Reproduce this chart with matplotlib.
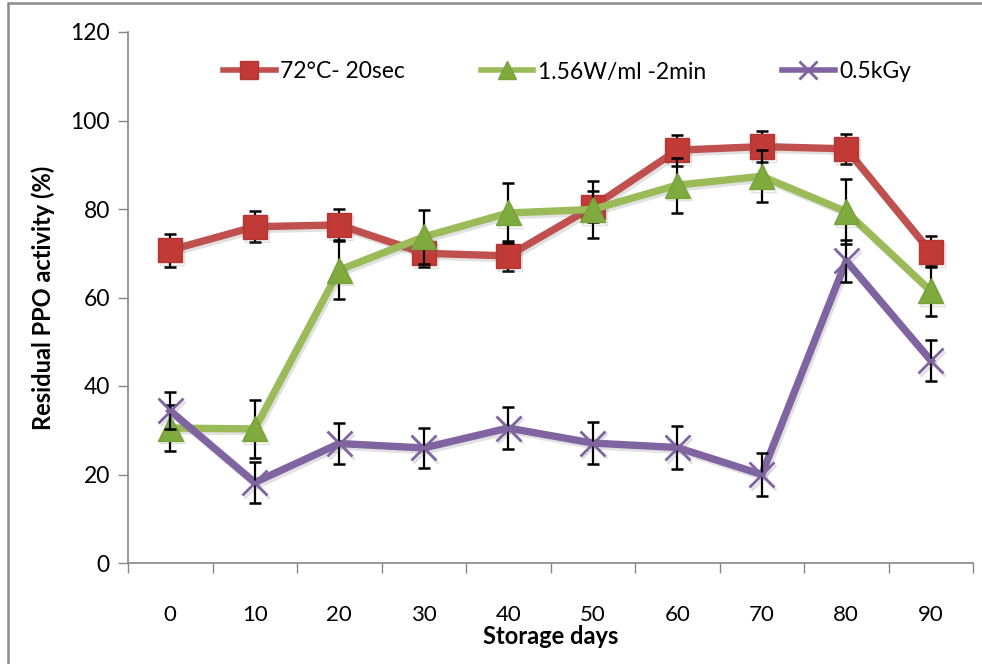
import matplotlib
matplotlib.use("Agg")
import matplotlib.pyplot as plt
import matplotlib.patheffects as pe
from matplotlib.patches import Rectangle
import numpy as np

days = [0, 10, 20, 30, 40, 50, 60, 70, 80, 90]
labels = ["72°C- 20sec", "1.56W/ml -2min", "0.5kGy"]
heat = [70.7, 76.0, 76.4, 70.0, 69.4, 80.5, 93.3, 94.1, 93.6, 70.3]
heat_err = [3.7, 3.5, 3.5, 3.2, 3.4, 3.5, 3.5, 3.5, 3.4, 3.5]
micro = [30.5, 30.3, 66.2, 73.7, 79.1, 79.9, 85.4, 87.4, 79.4, 61.5]
micro_err = [5.2, 6.5, 6.6, 6.1, 6.8, 6.5, 6.2, 5.9, 7.4, 5.6]
irr = [34.4, 18.2, 27.0, 26.0, 30.5, 27.1, 26.1, 20.0, 68.3, 45.8]
irr_err = [4.2, 4.6, 4.6, 4.6, 4.7, 4.7, 4.9, 4.8, 4.8, 4.6]
yticks = [0, 20, 40, 60, 80, 100, 120]

plt.rcParams['font.family'] = ['Lato', 'DejaVu Sans']

W, H = 982, 664
fig = plt.figure(figsize=(W / 100, H / 100), dpi=100)
ax = fig.add_axes([128 / W, 1 - 563 / H, (973 - 128) / W, (563 - 32) / H])

x = np.arange(len(days))
series = [
    (heat, heat_err, '#C0504D', 's', '#C23A36', '#B23733', 17.5, 1.0, 13.5),
    (micro, micro_err, '#9BBB59', '^', '#7FAA3D', '#77A23A', 18, 1.0, 13),
    (irr, irr_err, '#8064A2', 'x', '#8064A2', '#8064A2', 18, 2.0, 13),
]
shadow = [pe.SimpleLineShadow(offset=(1.5, -2.0), shadow_color='#777777', alpha=0.22), pe.Normal()]
handles = []
for i, (vals, err, lc, mk, mfc, mec, ms, mew, lms) in enumerate(series):
    base = 2 + 3 * i
    ax.plot(x, vals, color=lc, lw=5.3, solid_joinstyle='round', zorder=base, path_effects=shadow)
    ax.errorbar(x, vals, yerr=err, fmt='none', ecolor='black', elinewidth=1.6,
                capsize=4.5, capthick=1.8, zorder=base + 1)
    ax.plot(x, vals, ls='none', marker=mk, ms=ms, mfc=mfc, mec=mec, mew=mew,
            zorder=base + 2, path_effects=shadow)
    h, = ax.plot([], [], color=lc, lw=4, marker=mk, ms=lms, mfc=mfc, mec=mec, mew=mew)
    handles.append(h)

ax.set_xlim(-0.5, len(days) - 0.5)
ax.set_ylim(0, 120)
ax.set_yticks(yticks)
ax.set_xticks(np.arange(-0.5, len(days), 1.0))
ax.set_xticklabels([])
ax.set_xticks(x, minor=True)
ax.set_xticklabels([str(d) for d in days], minor=True)
ax.tick_params(axis='x', which='major', direction='out', length=7, width=1, color='#868686')
ax.tick_params(axis='x', which='minor', length=0, pad=30, labelsize=16, labelcolor='black')
ax.tick_params(axis='y', direction='out', length=7, width=1, color='#868686', labelsize=16.5, pad=6)
for s in ['top', 'right']:
    ax.spines[s].set_visible(False)
for s in ['left', 'bottom']:
    ax.spines[s].set_color('#868686')
    ax.spines[s].set_linewidth(1.2)

ax.set_ylabel('Residual PPO activity (%)', fontsize=17, fontweight='bold', labelpad=11)
ax.set_xlabel('Storage days', fontsize=17, fontweight='bold', labelpad=0)

fig.legend(handles, labels, loc='center', bbox_to_anchor=(567 / W, 1 - 72 / H), ncol=3,
           frameon=False, fontsize=16.5, handlelength=2.3, columnspacing=3.3, handletextpad=0.2)

fig.patches.append(Rectangle((8 / W, -0.1), 1.2, 1.1 - 3 / H, transform=fig.transFigure,
                             fill=False, edgecolor='#8a8a8a', lw=1.8, zorder=0))

fig.savefig('out.png', dpi=100)
